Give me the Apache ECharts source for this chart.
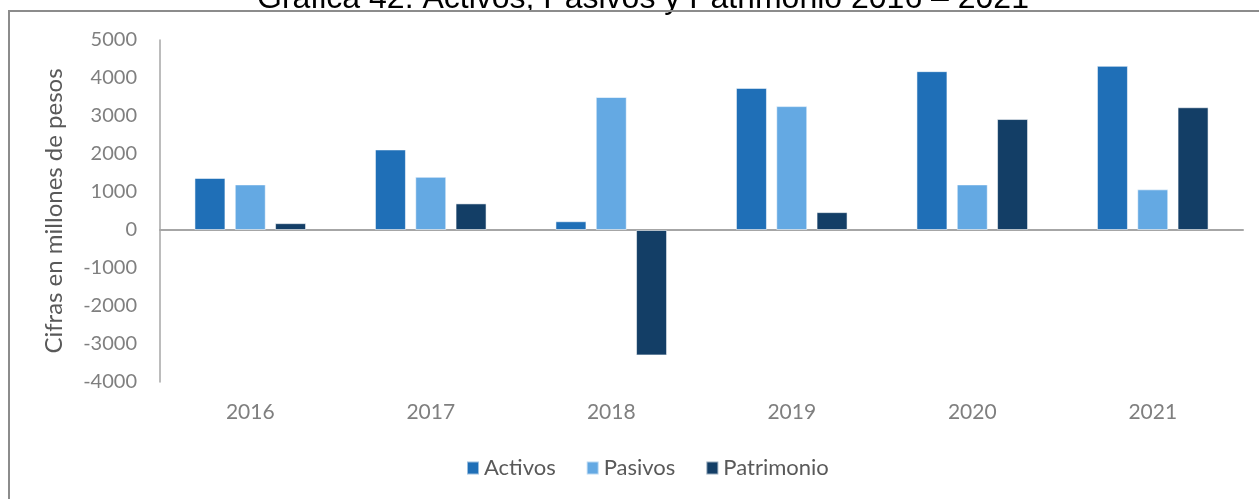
<!DOCTYPE html>
<html>
<head>
<meta charset="utf-8">
<script src="https://cdn.jsdelivr.net/npm/echarts@6/dist/echarts.min.js"></script>
<style>
  html, body { margin: 0; padding: 0; background: #ffffff; }
  #main { width: 1259px; height: 499px; }
</style>
</head>
<body>
<div id="main"></div>
<script>
var years = ['2016', '2017', '2018', '2019', '2020', '2021'];
var activos = [1370, 2120, 230, 3740, 4180, 4320];
var pasivos = [1200, 1400, 3500, 3260, 1200, 1070];
var patrimonio = [180, 700, -3300, 470, 2920, 3230];

var chart = echarts.init(document.getElementById('main'), null, { renderer: 'canvas' });

function barSeries(name, data, color) {
    return {
        name: name,
        type: 'bar',
        data: data,
        barWidth: 31,
        barGap: '30%',
        itemStyle: {
            color: color,
            borderColor: 'rgba(255,255,255,0.55)',
            borderWidth: 1
        }
    };
}

var option = {
    backgroundColor: '#ffffff',
    animation: false,
    title: {
        text: 'Gráfica 42. Activos, Pasivos y Patrimonio 2016 – 2021',
        left: 252,
        top: -22,
        textStyle: {
            fontFamily: 'Liberation Sans',
            fontWeight: 'normal',
            fontSize: 32,
            color: '#000000'
        }
    },
    graphic: [{
        type: 'polyline',
        shape: { points: [[9, 499], [9, 11], [1259, 11]] },
        style: { stroke: '#8c8c8c', lineWidth: 2, fill: null },
        silent: true,
        z: 100
    }],
    legend: {
        data: ['Activos', 'Pasivos', 'Patrimonio'],
        bottom: 15,
        left: 461,
        icon: 'rect',
        itemWidth: 12,
        itemHeight: 13,
        itemGap: 30,
        textStyle: {
            fontFamily: 'Lato',
            fontSize: 22,
            color: '#595959'
        }
    },
    grid: {
        left: 160,
        right: 16,
        top: 40,
        bottom: 117,
        containLabel: false,
        outerBoundsMode: 'none'
    },
    xAxis: [{
        type: 'category',
        data: years,
        position: 'bottom',
        axisTick: { show: false },
        axisLine: { show: false, onZero: false },
        axisLabel: {
            fontFamily: 'Lato',
            fontSize: 21,
            color: '#7f7f7f',
            margin: 20
        }
    }, {
        type: 'category',
        data: years,
        position: 'bottom',
        axisTick: { show: false },
        axisLabel: { show: false },
        axisLine: { onZero: true, lineStyle: { color: '#a6a6a6', width: 2 } }
    }],
    yAxis: {
        type: 'value',
        min: -4000,
        max: 5000,
        interval: 1000,
        name: 'Cifras en millones de pesos',
        nameLocation: 'middle',
        nameGap: 94,
        nameTextStyle: {
            fontFamily: 'Lato',
            fontSize: 24,
            color: '#595959'
        },
        axisLine: { show: true, lineStyle: { color: '#a6a6a6', width: 1.5 } },
        axisTick: { show: false },
        splitLine: { show: false },
        axisLabel: {
            fontFamily: 'Lato',
            fontSize: 20,
            color: '#7f7f7f',
            margin: 23,
            formatter: function (v) { return String(v); }
        }
    },
    series: [
        barSeries('Activos', activos, '#1f6fb7'),
        barSeries('Pasivos', pasivos, '#64a9e3'),
        barSeries('Patrimonio', patrimonio, '#133e66')
    ]
};

chart.setOption(option);
</script>
</body>
</html>
